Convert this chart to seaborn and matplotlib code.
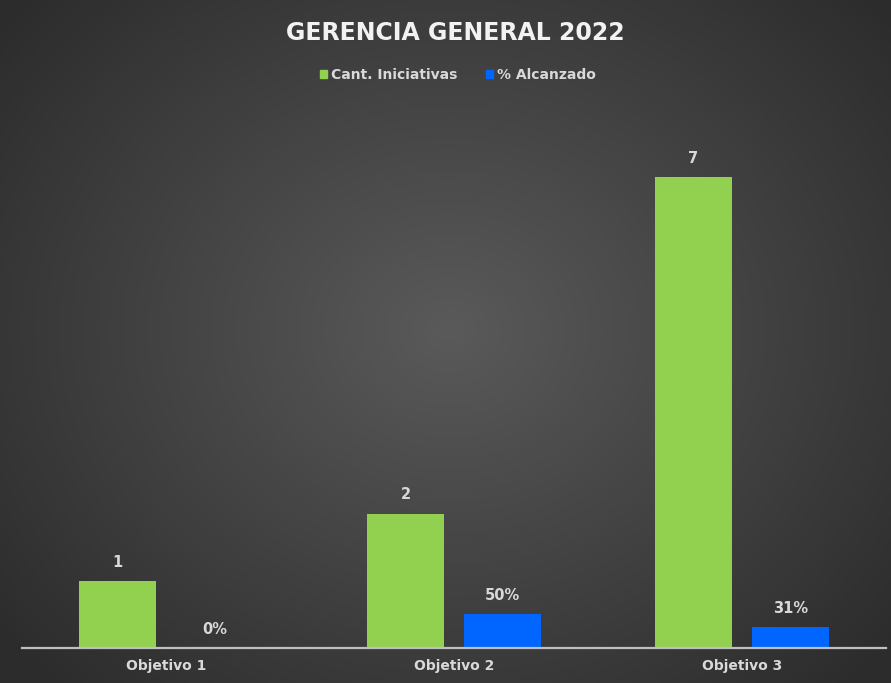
import numpy as np
import pandas as pd
import matplotlib
matplotlib.use("Agg")
import matplotlib.pyplot as plt
import seaborn as sns
from matplotlib.patches import Patch

# ---- data ----
categories = ["Objetivo 1", "Objetivo 2", "Objetivo 3"]
cant_iniciativas = [1, 2, 7]
pct_alcanzado = [0, 50, 31]
series_names = ["Cant. Iniciativas", "% Alcanzado"]
title = "GERENCIA GENERAL 2022"

GREEN = "#92D050"
BLUE = "#0066FF"
TXT = "#D9D9D9"

sns.set_theme(style="white")
plt.rcParams["font.family"] = ["DejaVu Sans"]

df = pd.DataFrame({
    "cat": categories * 2,
    "serie": [series_names[0]] * 3 + [series_names[1]] * 3,
    "valor": cant_iniciativas + [p / 100 for p in pct_alcanzado],
})

fig = plt.figure(figsize=(8.91, 6.83), dpi=100)

# radial gradient background
bg = fig.add_axes([0, 0, 1, 1], zorder=-10)
h, w = 683, 891
yy, xx = np.mgrid[0:h, 0:w]
r = np.sqrt(((xx - 450) / 580) ** 2 + ((yy - 330) / 490) ** 2)
r = np.clip(r, 0, 1)
c0, c1 = 0x5A / 255, 0x2C / 255
img = c0 + (c1 - c0) * r
bg.imshow(np.dstack([img, img, img]), aspect="auto", extent=[0, 1, 0, 1])
bg.set_axis_off()

ax = fig.add_axes([22 / 891, 35 / 683, (886 - 22) / 891, (648 - 110) / 683])
ax.set_facecolor("none")

sns.barplot(data=df, x="cat", y="valor", hue="serie", order=categories,
            hue_order=series_names, palette=[GREEN, BLUE],
            width=0.674, gap=0.21, ax=ax, legend=False, saturation=1,
            linewidth=0, edgecolor="none")

ax.set_ylim(0, 8)
ax.set_xlim(-0.5, 2.5)
labels_by_serie = {
    series_names[0]: [str(v) for v in cant_iniciativas],
    series_names[1]: [f"{p}%" for p in pct_alcanzado],
}
for container, name in zip(ax.containers, series_names):
    ax.bar_label(container, labels=labels_by_serie[name], padding=8,
                 color=TXT, fontsize=10.5, fontweight="bold")

ax.set_xlabel("")
ax.set_ylabel("")
ax.set_yticks([])
for s in ["top", "left", "right"]:
    ax.spines[s].set_visible(False)
ax.spines["bottom"].set_color("#BFBFBF")
ax.spines["bottom"].set_linewidth(1.6)
ax.tick_params(axis="x", length=0, pad=8, colors=TXT, labelsize=10)
for t in ax.get_xticklabels():
    t.set_fontweight("bold")

fig.text(455 / 891, 1 - 33 / 683, title, ha="center", va="center",
         color="#F2F2F2", fontsize=17, fontweight="bold")

handles = [Patch(color=GREEN), Patch(color=BLUE)]
leg = fig.legend(handles, series_names, loc="center", bbox_to_anchor=(458 / 891, 1 - 75 / 683),
                 ncol=2, frameon=False, handlelength=0.55, handleheight=0.55,
                 handletextpad=0.3, columnspacing=2.0,
                 prop={"weight": "bold", "size": 10})
for t in leg.get_texts():
    t.set_color(TXT)

fig.savefig("out.png", dpi=100)
